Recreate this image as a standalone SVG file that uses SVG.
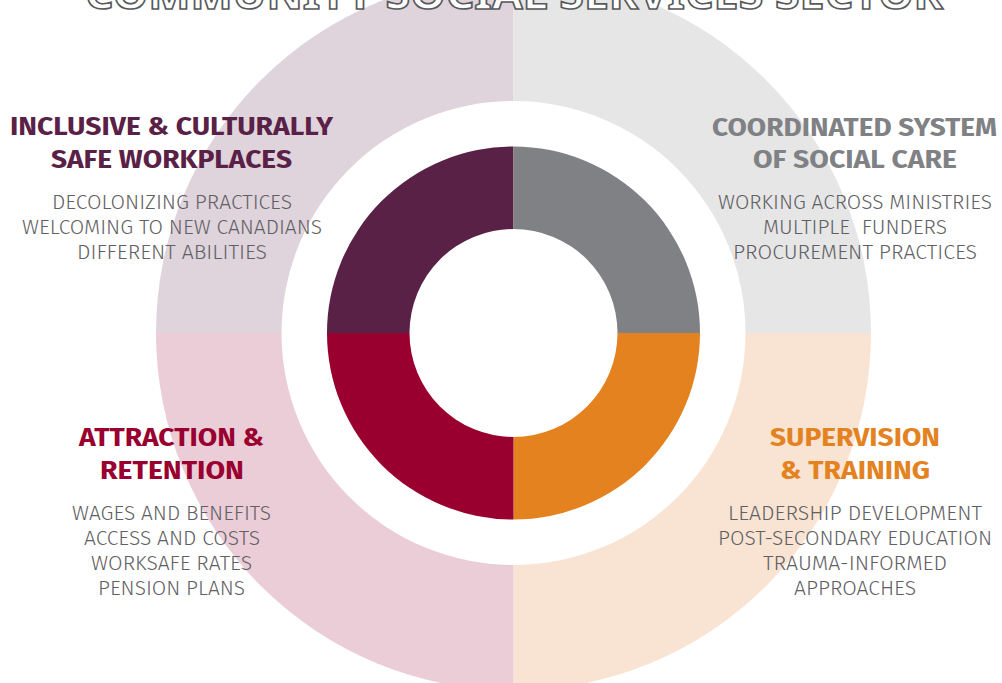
<svg xmlns="http://www.w3.org/2000/svg" width="1002" height="683" viewBox="0 0 1002 683">
<style>
.h{font-family:"Fira Sans","Noto Sans","Open Sans",sans-serif;font-weight:700;font-size:26px;text-anchor:middle}
.i{font-family:"Fira Sans","Roboto","Noto Sans",sans-serif;font-weight:300;font-size:20.5px;fill:#5f6063;text-anchor:middle}
.title{font-family:"Noto Sans","Liberation Sans",sans-serif;font-weight:700;font-size:42px;fill:#ffffff;stroke:#58595b;stroke-width:1.6;text-anchor:middle}
</style>
<rect width="1002" height="683" fill="#ffffff"/>
<g id="background">
<path d="M513.5,333 L156,333 A357.5,357.5 0 0 1 513.5,-24.5 Z" fill="#dfd3dc"/>
<path d="M513.5,333 L513.5,-24.5 A357.5,357.5 0 0 1 871,333 Z" fill="#e6e6e6"/>
<path d="M513.5,333 L871,333 A357.5,357.5 0 0 1 513.5,690.5 Z" fill="#f9e4d3"/>
<path d="M513.5,333 L513.5,690.5 A357.5,357.5 0 0 1 156,333 Z" fill="#eacdd7"/>
<circle cx="513.5" cy="333" r="232" fill="#ffffff"/>
</g>
<text class="title" x="514" y="9" textLength="858" lengthAdjust="spacingAndGlyphs">COMMUNITY SOCIAL SERVICES SECTOR</text>
<g id="donut">
<path id="seg-inclusive" d="M327,333 A186.5,186.5 0 0 1 513.5,146.5 L513.5,229 A104,104 0 0 0 409.5,333 Z" fill="#5a2147"/>
<path id="seg-coordinated" d="M513.5,146.5 A186.5,186.5 0 0 1 700,333 L617.5,333 A104,104 0 0 0 513.5,229 Z" fill="#808184"/>
<path id="seg-supervision" d="M700,333 A186.5,186.5 0 0 1 513.5,519.5 L513.5,437 A104,104 0 0 0 617.5,333 Z" fill="#e3821f"/>
<path id="seg-attraction" d="M513.5,519.5 A186.5,186.5 0 0 1 327,333 L409.5,333 A104,104 0 0 0 513.5,437 Z" fill="#990030"/>
</g>
<g id="node-inclusive">
<text class="h" fill="#5a2147" x="171.5" y="135" textLength="323" lengthAdjust="spacingAndGlyphs">INCLUSIVE &amp; CULTURALLY</text>
<text class="h" fill="#5a2147" x="171.5" y="168" textLength="241" lengthAdjust="spacingAndGlyphs">SAFE WORKPLACES</text>
<text class="i" x="172" y="209" textLength="240" lengthAdjust="spacingAndGlyphs">DECOLONIZING PRACTICES</text>
<text class="i" x="172" y="234" textLength="300" lengthAdjust="spacingAndGlyphs">WELCOMING TO NEW CANADIANS</text>
<text class="i" x="172" y="259" textLength="190" lengthAdjust="spacingAndGlyphs">DIFFERENT ABILITIES</text>
</g>
<g id="node-coordinated">
<text class="h" fill="#808184" x="854.5" y="136" textLength="285" lengthAdjust="spacingAndGlyphs">COORDINATED SYSTEM</text>
<text class="h" fill="#808184" x="855" y="168" textLength="204" lengthAdjust="spacingAndGlyphs">OF SOCIAL CARE</text>
<text class="i" x="855" y="209" textLength="274" lengthAdjust="spacingAndGlyphs">WORKING ACROSS MINISTRIES</text>
<text class="i" x="855" y="234" textLength="184" lengthAdjust="spacingAndGlyphs" xml:space="preserve">MULTIPLE  FUNDERS</text>
<text class="i" x="855" y="259" textLength="244" lengthAdjust="spacingAndGlyphs">PROCUREMENT PRACTICES</text>
</g>
<g id="node-attraction">
<text class="h" fill="#990030" x="171.5" y="446" textLength="185" lengthAdjust="spacingAndGlyphs">ATTRACTION &amp;</text>
<text class="h" fill="#990030" x="172" y="479" textLength="144" lengthAdjust="spacingAndGlyphs">RETENTION</text>
<text class="i" x="171.5" y="520" textLength="199" lengthAdjust="spacingAndGlyphs">WAGES AND BENEFITS</text>
<text class="i" x="172" y="545" textLength="176" lengthAdjust="spacingAndGlyphs">ACCESS AND COSTS</text>
<text class="i" x="171.5" y="570" textLength="161" lengthAdjust="spacingAndGlyphs">WORKSAFE RATES</text>
<text class="i" x="171.5" y="595" textLength="147" lengthAdjust="spacingAndGlyphs">PENSION PLANS</text>
</g>
<g id="node-supervision">
<text class="h" fill="#e3821f" x="855" y="446" textLength="170" lengthAdjust="spacingAndGlyphs">SUPERVISION</text>
<text class="h" fill="#e3821f" x="855" y="479" textLength="150" lengthAdjust="spacingAndGlyphs">&amp; TRAINING</text>
<text class="i" x="855" y="520" textLength="254" lengthAdjust="spacingAndGlyphs">LEADERSHIP DEVELOPMENT</text>
<text class="i" x="855" y="545" textLength="274" lengthAdjust="spacingAndGlyphs">POST-SECONDARY EDUCATION</text>
<text class="i" x="855" y="570" textLength="184" lengthAdjust="spacingAndGlyphs">TRAUMA-INFORMED</text>
<text class="i" x="855" y="595" textLength="122" lengthAdjust="spacingAndGlyphs">APPROACHES</text>
</g>
<g id="connectors"></g>
</svg>
